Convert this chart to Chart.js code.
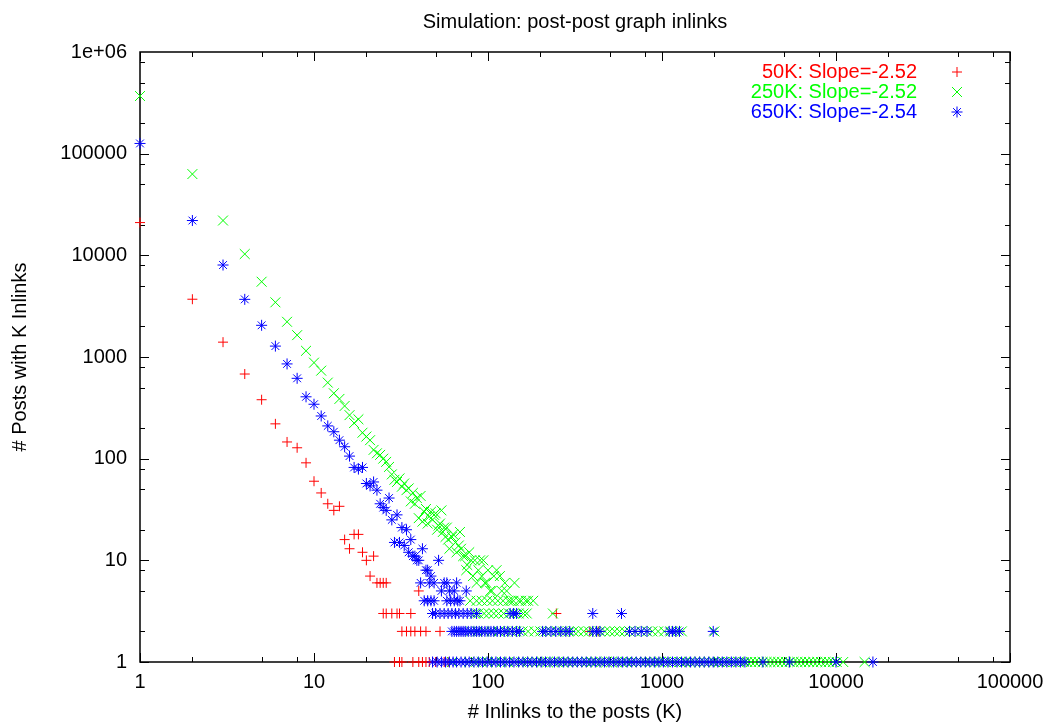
<!DOCTYPE html>
<html>
<head>
<meta charset="utf-8">
<script src="https://cdn.jsdelivr.net/npm/chart.js@4"></script>
<style>body{margin:0;background:#fff}canvas{display:block}</style>
</head>
<body>
<canvas id="chart" width="1052" height="727"></canvas>
<script>
const chartTitle = 'Simulation: post-post graph inlinks'
const xTitle = '# Inlinks to the posts (K)'
const yTitle = '# Posts with K Inlinks'
const seriesNames = ['50K: Slope=-2.52', '250K: Slope=-2.52', '650K: Slope=-2.54']
const xTickValues = [1, 10, 100, 1000, 10000, 100000]
const yTickValues = [1, 10, 100, 1000, 10000, 100000, 1000000]

// 50K run
const redK = [1, 2, 3, 4, 5, 6, 7, 8, 9, 10, 11, 12, 13, 14, 15, 16, 17, 18, 19, 20, 21, 22, 23, 24, 25, 26, 40]
const redN = [21000, 3700, 1400, 680, 380, 220, 146, 128, 91, 60, 46, 36, 31, 34, 16, 13, 18, 18, 12, 10, 7, 11, 6, 6, 6, 6, 5]
const redAt3 = [25, 26, 28, 30, 31, 36, 247]
const redAt2 = [32, 34, 36, 38, 41, 44, 53, 385, 430]
const redAt1 = [29, 31, 32, 37, 40, 42, 44, 46, 48, 50, 56, 59]

// 250K run
const greenK = [1, 2, 3, 4, 5, 6, 7, 8, 9, 10, 11, 12, 13, 14, 15, 16, 17, 18, 19, 20,
  21, 22, 23, 24, 25, 26, 27, 28, 29, 30, 31, 32, 33, 34, 35, 36, 37, 38, 39, 40,
  41, 42, 43, 44, 45, 46, 47, 48, 49, 50, 51, 52, 53, 54, 55, 56, 57, 58, 59, 60,
  62, 63, 65, 66, 68, 69, 70, 72, 74, 75, 76, 78, 80, 82, 84, 86, 88, 90, 92, 94,
  96, 98, 100, 103, 105, 108, 112, 117, 120, 125, 128, 135, 142, 150, 165, 182]
const greenN = [369000, 63000, 22000, 10300, 5500, 3450, 2220, 1640, 1150, 880, 734, 560, 440, 387, 330, 268, 224, 244, 180, 165,
  152, 122, 113, 109, 100, 93, 83, 70, 62, 59, 64, 53, 57, 49, 51, 38, 46, 36, 41, 26,
  43, 24, 30, 32, 23, 27, 30, 25, 28, 29, 20, 22, 23, 31, 19, 21, 17, 21, 16, 13,
  17, 18, 15, 12, 14, 19, 13, 11, 11, 8, 9, 12, 10, 7, 10, 6, 8, 10, 7, 10,
  6, 6, 8, 5, 5, 7, 8, 7, 5, 6, 5, 4, 6, 4, 4, 4]
const greenAt4 = [79, 86, 92, 99, 106, 114, 122, 131, 140, 155, 170]
const greenAt3 = [84, 88, 95, 101, 108, 115, 123, 132, 141, 150, 160, 167, 236]
const greenAt2 = [80, 87, 95, 105, 115, 125, 135, 145, 158, 170, 185, 200, 215, 230, 250, 270, 290, 310, 330, 355,
  380, 410, 440, 470, 500, 535, 570, 610, 650, 700, 760, 820, 880, 950, 1030, 1120, 1210, 1300, 2000]
const greenAt1 = [62, 70, 78, 85, 92, 100, 110, 120, 130, 142, 155, 168, 180, 192, 205, 220, 235, 250, 268, 286,
  305, 325, 346, 370, 395, 420, 450, 480, 512, 546, 583, 622, 664, 708, 755, 806, 860, 917, 978, 1044,
  1114, 1188, 1268, 1353, 1443, 1540, 1643, 1753, 1870, 1995, 2129, 2271, 2423, 2585, 2758, 2942, 3090, 3250, 3420, 3600,
  3790, 3990, 4200, 4420, 4650, 4900, 5150, 5420, 5700, 6000, 6300, 6650, 7000, 7400, 7800, 8200, 8700, 9100, 9600, 10100,
  11000, 14600]

// 650K run
const blueK = [1, 2, 3, 4, 5, 6, 7, 8, 9, 10, 11, 12, 13, 14, 15, 16, 17, 18, 19, 20,
  21, 22, 23, 24, 25, 26, 27, 28, 29, 30, 31, 32, 33, 34, 35, 36, 37, 38, 39, 40,
  41, 42, 44, 45, 46, 47, 49, 52, 54, 56, 58, 60, 64, 66, 75]
const blueN = [126000, 22000, 8030, 3690, 2050, 1280, 855, 617, 406, 343, 263, 210, 184, 152, 131, 106, 82, 79, 82, 57,
  54, 59, 49, 36, 33, 31, 41, 25, 15, 28, 15, 21, 14, 20, 12, 16, 11, 11, 10, 10,
  6, 13, 8, 8, 6, 7, 6, 10, 5, 6, 6, 5, 5, 6, 5]
const blueAt4 = [43, 45, 47, 49, 58, 61, 64, 67, 69]
const blueAt3 = [48, 50, 53, 56, 59, 62, 65, 68, 72, 76, 80, 86, 134, 140, 146, 400, 585]
const blueAt2 = [62, 64, 66, 68, 70, 72, 74, 77, 80, 83, 86, 89, 92, 96, 100, 104, 108, 113, 118, 124,
  130, 138, 146, 152, 206, 215, 230, 245, 262, 280, 295, 400, 420, 440, 650, 700, 760, 820, 1100, 1150,
  1200, 1260, 1970]
const blueAt1 = [48, 51, 54, 57, 60, 63, 66, 70, 74, 78, 83, 88, 93, 99, 105, 111, 118, 125, 133, 141,
  150, 159, 169, 179, 190, 202, 214, 227, 241, 256, 272, 289, 307, 326, 346, 367, 390, 414, 440, 467,
  496, 527, 560, 594, 631, 670, 711, 755, 802, 851, 904, 960, 1019, 1082, 1149, 1220, 1295, 1375, 1460, 1550,
  1646, 1748, 1856, 1970, 2092, 2221, 2358, 2504, 2658, 2822, 2996, 3800, 5400, 10000, 16300]

const FONT = '"Liberation Sans", Arial, sans-serif'
const colors = ['#ff0000', '#00ff00', '#0000ff']
const styles = [
  { pointStyle: 'cross', radius: 5 },
  { pointStyle: 'crossRot', radius: 7 },
  { pointStyle: 'star', radius: 5.5 },
]

function points(ks, ns) {
  return ks.map((k, i) => ({ x: k, y: ns[i] }))
}
function flat(ks, n) {
  return ks.map(k => ({ x: k, y: n }))
}

const redData = [...points(redK, redN), ...flat(redAt3, 3), ...flat(redAt2, 2), ...flat(redAt1, 1)]
const greenData = [...points(greenK, greenN), ...flat(greenAt4, 4), ...flat(greenAt3, 3), ...flat(greenAt2, 2), ...flat(greenAt1, 1)]
const blueData = [...points(blueK, blueN), ...flat(blueAt4, 4), ...flat(blueAt3, 3), ...flat(blueAt2, 2), ...flat(blueAt1, 1)]

const gnuplotLook = {
  id: 'gnuplotLook',
  beforeDatasetsDraw(chart) {
    const { ctx, chartArea: a } = chart
    const xs = chart.scales.x, ys = chart.scales.y
    ctx.save()
    ctx.strokeStyle = '#000'
    ctx.lineWidth = 1
    // inward ticks on all four sides, minor ones at 2, 5, 8
    for (let d = 0; d <= 5; d++) {
      for (const m of [1, 2, 5, 8]) {
        const v = m * Math.pow(10, d)
        const len = m === 1 ? 9 : 5
        if (v <= 100000) {
          const px = Math.round(xs.getPixelForValue(v)) + 0.5
          ctx.beginPath()
          ctx.moveTo(px, a.bottom); ctx.lineTo(px, a.bottom - len)
          ctx.moveTo(px, a.top); ctx.lineTo(px, a.top + len)
          ctx.stroke()
        }
        if (v <= 1000000) {
          const py = Math.round(ys.getPixelForValue(v)) + 0.5
          ctx.beginPath()
          ctx.moveTo(a.left, py); ctx.lineTo(a.left + len, py)
          ctx.moveTo(a.right, py); ctx.lineTo(a.right - len, py)
          ctx.stroke()
        }
      }
    }
    ctx.lineWidth = 1.5
    ctx.strokeRect(a.left, a.top, a.right - a.left, a.bottom - a.top)
    ctx.restore()
  },
  afterDraw(chart) {
    const { ctx, chartArea: a } = chart
    const cx = (a.left + a.right) / 2
    ctx.save()
    ctx.fillStyle = '#000'
    ctx.font = '20px ' + FONT
    ctx.textAlign = 'center'
    ctx.textBaseline = 'middle'
    ctx.fillText(chartTitle, cx, 22)
    ctx.fillText(xTitle, cx, 712)
    ctx.save()
    ctx.translate(20, (a.top + a.bottom) / 2)
    ctx.rotate(-Math.PI / 2)
    ctx.fillText(yTitle, 0, 0)
    ctx.restore()

    // key in the top right corner, gnuplot style
    ctx.textAlign = 'right'
    seriesNames.forEach((name, i) => {
      const y = 72 + i * 20
      ctx.fillStyle = colors[i]
      ctx.fillText(name, 917, y)
      ctx.strokeStyle = colors[i]
      Chart.helpers.drawPoint(ctx, { ...styles[i], rotation: 0, borderWidth: 1 }, 957, y)
    })
    ctx.restore()
  },
}

const makeSet = (label, data, i, order) => ({
  label,
  data,
  order,
  clip: false,
  showLine: false,
  pointStyle: styles[i].pointStyle,
  pointRadius: styles[i].radius,
  pointHoverRadius: styles[i].radius,
  pointBorderWidth: 1,
  borderColor: colors[i],
  backgroundColor: colors[i],
})

new Chart(document.getElementById('chart'), {
  type: 'scatter',
  data: {
    datasets: [
      makeSet(seriesNames[0], redData, 0, 3),
      makeSet(seriesNames[1], greenData, 1, 2),
      makeSet(seriesNames[2], blueData, 2, 1),
    ],
  },
  options: {
    responsive: false,
    animation: false,
    devicePixelRatio: 1,
    layout: { padding: { top: 52, right: 42, left: 0, bottom: 0 } },
    plugins: { legend: { display: false }, title: { display: false }, tooltip: { enabled: false } },
    scales: {
      x: {
        type: 'logarithmic',
        min: 1,
        max: 100000,
        grid: { display: false, drawTicks: false },
        border: { display: false },
        afterBuildTicks: (s) => { s.ticks = xTickValues.map(v => ({ value: v, major: true })) },
        afterFit: (s) => { s.height = 65 },
        ticks: {
          autoSkip: false,
          maxRotation: 0,
          padding: 8,
          color: '#000',
          font: { family: FONT, size: 20 },
          callback: (v) => String(v),
        },
      },
      y: {
        type: 'logarithmic',
        min: 1,
        max: 1000000,
        grid: { display: false, drawTicks: false },
        border: { display: false },
        afterBuildTicks: (s) => { s.ticks = yTickValues.map(v => ({ value: v, major: true })) },
        afterFit: (s) => { s.width = 140 },
        ticks: {
          autoSkip: false,
          padding: 13,
          color: '#000',
          font: { family: FONT, size: 20 },
          callback: (v) => (v >= 1000000 ? '1e+06' : String(v)),
        },
      },
    },
  },
  plugins: [gnuplotLook],
})
</script>
</body>
</html>
